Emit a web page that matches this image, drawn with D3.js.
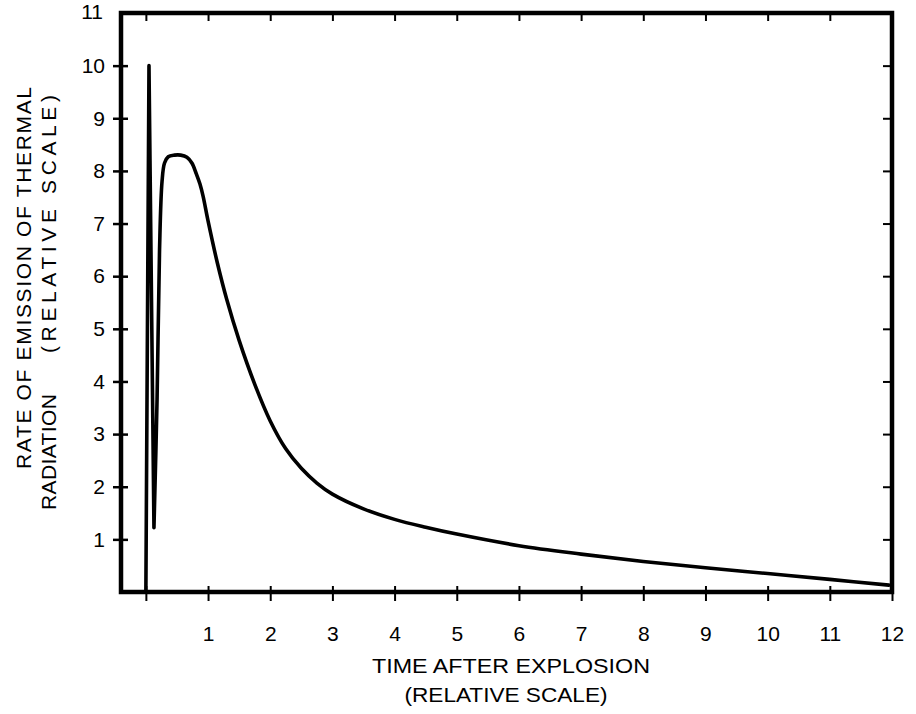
<!DOCTYPE html>
<html>
<head>
<meta charset="utf-8">
<script src="https://cdn.jsdelivr.net/npm/d3@7"></script>
<style>
  html, body { margin: 0; padding: 0; background: #fff; }
  svg { display: block; }
  text { font-family: "Liberation Sans", Arial, Helvetica, sans-serif; fill: #000; }
</style>
</head>
<body>
<svg id="chart" width="916" height="714"></svg>
<script>
// ---- data ----
// initial flash spike
const spikeTime =     [0.00, 0.05, 0.13];
const spikeEmission = [0.00, 10.0, 1.22];
// second (main) pulse and decay
const pulseTime =     [0.13, 0.18, 0.22, 0.26, 0.30, 0.36, 0.46, 0.56, 0.66, 0.74, 0.81, 0.87, 0.92, 1.00, 1.15, 1.30, 1.50, 1.75, 2.00, 2.25, 2.50, 2.75, 3.00, 3.50, 4.00, 4.50, 5.00, 6.00, 7.00, 8.00, 9.00, 10.00, 11.00, 11.95];
const pulseEmission = [1.22, 3.66, 6.51, 7.80, 8.15, 8.27, 8.30, 8.30, 8.26, 8.15, 7.95, 7.75, 7.52, 7.05, 6.25, 5.56, 4.78, 3.95, 3.25, 2.72, 2.35, 2.07, 1.86, 1.58, 1.38, 1.23, 1.10, 0.88, 0.72, 0.58, 0.46, 0.35, 0.24, 0.13];
const xTickVals = [0,1,2,3,4,5,6,7,8,9,10,11,12];
const xTickLabels = ["", "1","2","3","4","5","6","7","8","9","10","11","12"];
const yTickVals = [1,2,3,4,5,6,7,8,9,10,11];
const yTickLabels = ["1","2","3","4","5","6","7","8","9","10","11"];
const xTitle = ["TIME AFTER EXPLOSION", "(RELATIVE SCALE)"];
const yTitle1 = "RATE OF EMISSION OF THERMAL";
const yTitle2a = "RADIATION";
const yTitle2b = "(RELATIVE SCALE)";

const svg = d3.select("#chart");
const L = 121, R = 892, T = 13, B = 592;

const x = d3.scaleLinear().domain([-0.4, 12]).range([L, R]);
const y = d3.scaleLinear().domain([0, 11]).range([B, T]);

// bottom axis (ticks crossing the line)
const gB = svg.append("g").attr("transform", `translate(0,${B})`)
  .call(d3.axisBottom(x).tickValues(xTickVals).tickFormat((d,i) => xTickLabels[i]).tickSize(8).tickPadding(26));
gB.select(".domain").remove();
gB.selectAll(".tick line").attr("y1", -6).attr("y2", 9).attr("stroke", "#000").attr("stroke-width", 2);
gB.selectAll(".tick text").attr("font-size", 21);

// top axis (inward ticks)
const gT = svg.append("g").attr("transform", `translate(0,${T})`)
  .call(d3.axisTop(x).tickValues(xTickVals.slice(0, 12)).tickFormat("").tickSize(-8));
gT.select(".domain").remove();
gT.selectAll(".tick line").attr("stroke", "#000").attr("stroke-width", 2);

// left axis (ticks crossing)
const gL = svg.append("g").attr("transform", `translate(${L},0)`)
  .call(d3.axisLeft(y).tickValues(yTickVals).tickFormat((d,i) => yTickLabels[i]).tickSize(8).tickPadding(10));
gL.select(".domain").remove();
gL.selectAll(".tick line").attr("x1", 7).attr("x2", -8).attr("stroke", "#000").attr("stroke-width", 2.5);
gL.selectAll(".tick line").filter(d => d === 11).remove();
gL.selectAll(".tick text").attr("font-size", 21).attr("x", -16);
gL.selectAll(".tick text").filter(d => d === 11).attr("x", -18).attr("dy", "0.25em");

// right axis (inward ticks)
const gR = svg.append("g").attr("transform", `translate(${R},0)`)
  .call(d3.axisRight(y).tickValues(yTickVals.slice(0, 10)).tickFormat("").tickSize(-9));
gR.select(".domain").remove();
gR.selectAll(".tick line").attr("stroke", "#000").attr("stroke-width", 2);

// frame
svg.append("rect")
  .attr("x", L).attr("y", T).attr("width", R - L).attr("height", B - T)
  .attr("fill", "none").attr("stroke", "#000").attr("stroke-width", 4.5);

// curve: sharp spike + smooth pulse
const spikePts = spikeTime.map((t, i) => [t, spikeEmission[i]]);
const pulsePts = pulseTime.map((t, i) => [t, pulseEmission[i]]);
const lineLin = d3.line().x(d => x(d[0])).y(d => y(d[1]));
const lineSmooth = d3.line().x(d => x(d[0])).y(d => y(d[1])).curve(d3.curveCatmullRom.alpha(0.5));
svg.append("path")
  .attr("d", lineLin(spikePts) + lineSmooth(pulsePts).replace(/^M/, "L"))
  .attr("fill", "none").attr("stroke", "#000").attr("stroke-width", 3.6)
  .attr("stroke-linejoin", "round").attr("stroke-linecap", "round");

// x title
svg.append("text").attr("x", 511).attr("y", 673).attr("text-anchor", "middle")
  .attr("font-size", 21).attr("textLength", 278).attr("lengthAdjust", "spacingAndGlyphs").text(xTitle[0]);
svg.append("text").attr("x", 506).attr("y", 702).attr("text-anchor", "middle")
  .attr("font-size", 21).attr("textLength", 203).attr("lengthAdjust", "spacingAndGlyphs").text(xTitle[1]);

// y titles (rotated)
function vText(cx, cy, str, len) {
  svg.append("text")
    .attr("transform", `translate(${cx},${cy}) rotate(-90)`)
    .attr("text-anchor", "middle").attr("font-size", 21)
    .attr("textLength", len).attr("lengthAdjust", "spacing")
    .text(str);
}
vText(31, 278, yTitle1, 382);
vText(56, 452, yTitle2a, 116);
vText(56, 224, yTitle2b, 258);
</script>
</body>
</html>
